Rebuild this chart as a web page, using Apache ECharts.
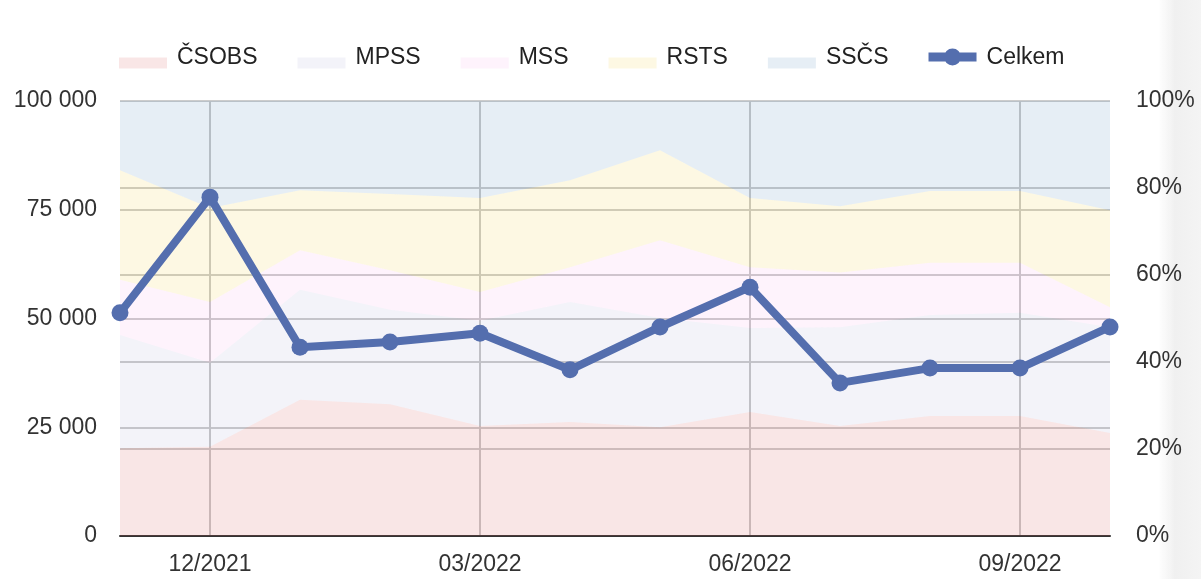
<!DOCTYPE html>
<html>
<head>
<meta charset="utf-8">
<script src="https://cdn.jsdelivr.net/npm/echarts@6/dist/echarts.min.js"></script>
<style>
html,body{margin:0;padding:0;background:#fff;}
#c{width:1201px;height:579px;}
</style>
</head>
<body>
<div id="c"></div>
<script>
const categories = ['11/2021','12/2021','01/2022','02/2022','03/2022','04/2022','05/2022','06/2022','07/2022','08/2022','09/2022','10/2022'];
const csobs = [20.2, 20.5, 31.3, 30.3, 25.3, 26.2, 25.0, 28.5, 25.3, 27.6, 27.6, 23.7];
const mpss  = [26.0, 19.3, 25.3, 21.7, 24.2, 27.6, 25.1, 19.3, 22.7, 23.2, 23.7, 24.3];
const mss   = [12.7, 14.0,  9.1,  9.1,  6.6,  8.0, 17.9, 14.0, 12.6, 12.0, 11.5,  4.6];
const rsts  = [25.2, 21.6, 13.8, 17.5, 21.6, 20.0, 20.7, 15.9, 15.2, 16.5, 16.5, 22.3];
const sscs  = [15.9, 24.6, 20.5, 21.4, 22.3, 18.2, 11.3, 22.3, 24.2, 20.7, 20.7, 25.1];
const celkem = [51300, 77900, 43400, 44600, 46600, 38200, 48050, 57200, 35200, 38600, 38600, 48050];
const leftTicks = [0, 25000, 50000, 75000, 100000];
const rightTicks = [0, 20, 40, 60, 80, 100];

const fmtThousands = v => String(v).replace(/\B(?=(\d{3})+(?!\d))/g, ' ');
const font = 'Liberation Sans, Arial, Helvetica, sans-serif';
const lineColor = '#546eae';
const FS = 23;

// legend icon shapes (48 x 22 box)
const rectIcon = 'path://M0 0 L48 0 L48 0.01 L0 0.01 Z M0 11 L48 11 L48 22 L0 22 Z';
const lineIcon = 'path://M0 0 L48 0 L48 0.01 L0 0.01 Z M0 21.99 L48 21.99 L48 22 L0 22 Z ' +
  'M0 6 L48 6 L48 15 L0 15 Z M15.5 10.5 A8.5 8.5 0 1 1 32.5 10.5 A8.5 8.5 0 1 1 15.5 10.5 Z';

function areaSeries(name, data, color) {
  return {
    name, type: 'line', data, stack: 'share', yAxisIndex: 1,
    symbol: 'none', lineStyle: { width: 0, color }, itemStyle: { color },
    areaStyle: { color, opacity: 1 }, z: 1, silent: true
  };
}

const chart = echarts.init(document.getElementById('c'), null, { renderer: 'canvas' });
chart.setOption({
  animation: false,
  textStyle: { fontFamily: font },
  graphic: [{
    type: 'rect', left: 1158, top: 0, z: -10, silent: true,
    shape: { width: 43, height: 579 },
    style: { fill: new echarts.graphic.LinearGradient(0, 0, 1, 0, [
      { offset: 0, color: 'rgba(240,240,240,0)' },
      { offset: 0.4, color: 'rgba(240,240,240,1)' },
      { offset: 1, color: 'rgba(244,244,244,1)' }
    ]) }
  }],
  legend: {
    top: 41, left: 114, itemWidth: 48, itemHeight: 22, itemGap: 40,
    textStyle: { fontSize: FS, color: '#222', fontFamily: font, padding: [0, 0, 0, 5] },
    data: [
      { name: 'ČSOBS', icon: rectIcon }, { name: 'MPSS', icon: rectIcon }, { name: 'MSS', icon: rectIcon },
      { name: 'RSTS', icon: rectIcon }, { name: 'SSČS', icon: rectIcon },
      { name: 'Celkem', icon: lineIcon, itemStyle: { color: lineColor } }
    ]
  },
  grid: { left: 120, right: 91, top: 101, bottom: 43, containLabel: false },
  xAxis: {
    type: 'category', data: categories, boundaryGap: false,
    axisLine: { show: true, lineStyle: { color: '#333', width: 2 } },
    axisTick: { show: false },
    axisLabel: { interval: (i) => i % 3 === 1, fontSize: FS, color: '#333', margin: 17 },
    splitLine: { show: true, interval: (i) => i % 3 === 1, lineStyle: { color: '#c8c8c8', width: 2 } }
  },
  yAxis: [
    {
      type: 'value', min: leftTicks[0], max: leftTicks[leftTicks.length - 1], interval: 25000,
      axisLine: { show: false }, axisTick: { show: false },
      axisLabel: { fontSize: FS, color: '#333', margin: 23, padding: [8, 0, 0, 0], formatter: v => fmtThousands(v) },
      splitLine: { show: true, lineStyle: { color: '#cccccc', width: 2 } }
    },
    {
      type: 'value', min: rightTicks[0], max: rightTicks[rightTicks.length - 1], interval: 20,
      position: 'right',
      axisLine: { show: false }, axisTick: { show: false },
      axisLabel: { fontSize: FS, color: '#333', margin: 26, padding: [8, 0, 0, 0], formatter: v => v + '%' },
      splitLine: { show: true, lineStyle: { color: '#cccccc', width: 2 } }
    }
  ],
  series: [
    areaSeries('ČSOBS', csobs, 'rgba(220,100,100,0.16)'),
    areaSeries('MPSS', mpss, 'rgba(100,100,180,0.08)'),
    areaSeries('MSS', mss, 'rgba(240,100,220,0.08)'),
    areaSeries('RSTS', rsts, 'rgba(240,200,40,0.13)'),
    areaSeries('SSČS', sscs, 'rgba(60,120,180,0.13)'),
    {
      name: 'Celkem', type: 'line', data: celkem, yAxisIndex: 0, z: 5,
      symbol: 'circle', symbolSize: 17,
      lineStyle: { width: 8, color: lineColor }, itemStyle: { color: lineColor }
    }
  ]
});
</script>
</body>
</html>
